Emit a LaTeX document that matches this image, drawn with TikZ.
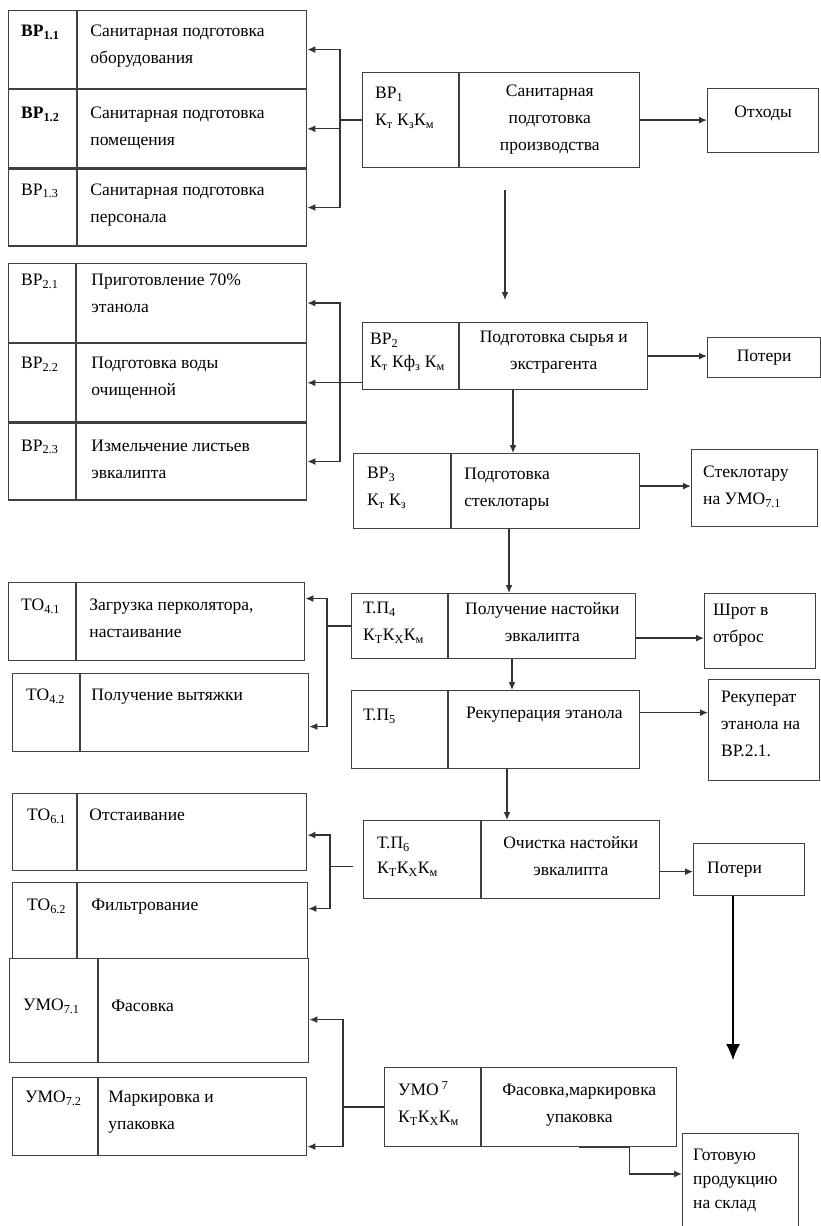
\documentclass[tikz,border=0pt]{standalone}
\usepackage{fontspec}
\setmainfont{Liberation Serif}
\usepackage{tikz}
\usetikzlibrary{arrows.meta,positioning}
\newcommand{\sbs}[1]{\textsubscript{#1}}
\newcommand{\boxfont}{\fontsize{17.5}{27}\selectfont}

\begin{document}
\begin{tikzpicture}[x=1pt, y=-1pt,
  cell/.style={draw=black!75, line width=1.2pt, anchor=north west,
    inner sep=0pt, font=\boxfont},
  txt/.style={anchor=north west, inner sep=0pt, align=left,
    xshift=13pt, yshift=-15pt, font=\boxfont},
  ctxt/.style={anchor=north, inner sep=0pt, align=center,
    yshift=-15pt, font=\boxfont},
  arr/.style={-{Latex[length=8pt,width=7pt]}, line width=1.3pt, black!80},
  link/.style={line width=1.3pt, black!80},
]
\useasboundingbox (0,0) rectangle (821,1226);

% Auxiliary work 1
\node[cell, minimum width=68pt, minimum height=78pt,
  label={[txt]north west:\textbf{ВР\sbs{1.1}}}] (bp11c) at (8,10) {};
\node[cell, minimum width=229pt, minimum height=78pt,
  label={[txt]north west:{Санитарная подготовка\\оборудования}}] (bp11) at (bp11c.north east) {};
\node[cell, minimum width=68pt, minimum height=78pt,
  label={[txt, yshift=-3pt]north west:\textbf{ВР\sbs{1.2}}}] (bp12c) at (bp11c.south west) {};
\node[cell, minimum width=229pt, minimum height=78pt,
  label={[txt, yshift=-3pt]north west:{Санитарная подготовка\\помещения}}] (bp12) at (bp12c.north east) {};
\node[cell, minimum width=68pt, minimum height=77pt,
  label={[txt]north west:ВР\sbs{1.3}}] (bp13c) at (bp12c.south west) {};
\node[cell, minimum width=229pt, minimum height=77pt,
  label={[txt]north west:{Санитарная подготовка\\персонала}}] (bp13) at (bp13c.north east) {};

\node[cell, minimum width=96pt, minimum height=95pt,
  label={[txt]north west:{ВР\sbs{1}\\К\sbs{т} К\sbs{з}К\sbs{м}}}] (bp1c) at (362,72) {};
\node[cell, minimum width=180pt, minimum height=95pt,
  label={[ctxt, yshift=2pt]north:{Санитарная\\подготовка\\производства}}] (bp1) at (bp1c.north east) {};
\node[cell, minimum width=111pt, minimum height=64pt,
  label={[ctxt, yshift=-3pt]north:Отходы}] (otx) at (707,88) {};

% Auxiliary work 2
\node[cell, minimum width=67pt, minimum height=79pt,
  label={[txt, yshift=4pt]north west:ВР\sbs{2.1}}] (bp21c) at (8,263) {};
\node[cell, minimum width=230pt, minimum height=79pt,
  label={[txt, xshift=2pt, yshift=4pt]north west:{Приготовление 70\%\\этанола}}] (bp21) at (bp21c.north east) {};
\node[cell, minimum width=67pt, minimum height=78pt,
  label={[txt, yshift=1pt]north west:ВР\sbs{2.2}}] (bp22c) at (bp21c.south west) {};
\node[cell, minimum width=230pt, minimum height=78pt,
  label={[txt, xshift=2pt, yshift=1pt]north west:{Подготовка воды\\очищенной}}] (bp22) at (bp22c.north east) {};
\node[cell, minimum width=67pt, minimum height=77pt,
  label={[txt, yshift=-2pt]north west:ВР\sbs{2.3}}] (bp23c) at (bp22c.south west) {};
\node[cell, minimum width=230pt, minimum height=77pt,
  label={[txt, xshift=2pt, yshift=-2pt]north west:{Измельчение листьев\\эвкалипта}}] (bp23) at (bp23c.north east) {};

\node[cell, minimum width=96pt, minimum height=67pt,
  label={[txt, xshift=-5pt, yshift=4pt, font=\fontsize{17.5}{23}\selectfont]north west:{ВР\sbs{2}\\К\sbs{т} Кф\sbs{з} К\sbs{м}}}] (bp2c) at (362,322) {};
\node[cell, minimum width=188pt, minimum height=67pt,
  label={[ctxt, yshift=6pt]north:{Подготовка сырья и\\экстрагента}}] (bp2) at (bp2c.north east) {};
\node[cell, minimum width=113pt, minimum height=40pt] (pot1) at (707,337) {Потери};

% Auxiliary work 3
\node[cell, minimum width=97pt, minimum height=75pt,
  label={[txt, xshift=1pt, yshift=1pt]north west:{ВР\sbs{3}\\К\sbs{т} К\sbs{з}}}] (bp3c) at (353,453) {};
\node[cell, minimum width=188pt, minimum height=75pt,
  label={[txt]north west:{Подготовка\\стеклотары}}] (bp3) at (bp3c.north east) {};
\node[cell, minimum width=126pt, minimum height=77pt,
  label={[txt, xshift=-1pt, yshift=-2pt]north west:{Стеклотару\\на УМО\sbs{7.1}}}] (steklo) at (691,449) {};

% Technological operations 4
\node[cell, minimum width=67pt, minimum height=78pt,
  label={[txt, yshift=-2pt]north west:ТО\sbs{4.1}}] (to41c) at (8,582) {};
\node[cell, minimum width=228pt, minimum height=78pt,
  label={[txt, yshift=-2pt]north west:{Загрузка перколятора,\\настаивание}}] (to41) at (to41c.north east) {};
\node[cell, minimum width=67pt, minimum height=78pt,
  label={[txt, xshift=1pt, yshift=-1pt]north west:ТО\sbs{4.2}}] (to42c) at (12,673) {};
\node[cell, minimum width=228pt, minimum height=78pt,
  label={[txt, xshift=-2pt, yshift=-1pt]north west:Получение вытяжки}] (to42) at (to42c.north east) {};

\node[cell, minimum width=96pt, minimum height=65pt,
  label={[txt, xshift=-1pt, yshift=6pt]north west:{Т.П\sbs{4}\\К\sbs{Т}К\sbs{Х}К\sbs{м}}}] (tp4c) at (351,593) {};
\node[cell, minimum width=187pt, minimum height=65pt,
  label={[ctxt, yshift=6pt]north:{Получение настойки\\эвкалипта}}] (tp4) at (tp4c.north east) {};
\node[cell, minimum width=111pt, minimum height=75pt,
  label={[txt, xshift=-4pt, yshift=4pt]north west:{Шрот в\\отброс}}] (shrot) at (704,593) {};

% Technological process 5
\node[cell, minimum width=96pt, minimum height=78pt,
  label={[txt, xshift=-1pt, yshift=-4pt]north west:Т.П\sbs{5}}] (tp5c) at (351,690) {};
\node[cell, minimum width=191pt, minimum height=78pt,
  label={[ctxt, yshift=-2pt]north:Рекуперация этанола}] (tp5) at (tp5c.north east) {};
\node[cell, minimum width=111pt, minimum height=101pt,
  label={[txt, yshift=3pt]north west:{Рекуперат\\этанола на\\ВР.2.1.}}] (rekup) at (708,679) {};

% Technological operations 6
\node[cell, minimum width=64pt, minimum height=77pt,
  label={[txt, xshift=2pt, yshift=-1pt]north west:ТО\sbs{6.1}}] (to61c) at (12,793) {};
\node[cell, minimum width=229pt, minimum height=77pt,
  label={[txt, xshift=-1pt, yshift=-1pt]north west:Отстаивание}] (to61) at (to61c.north east) {};
\node[cell, minimum width=64pt, minimum height=76pt,
  label={[txt, xshift=2pt, yshift=-2pt]north west:ТО\sbs{6.2}}] (to62c) at (12,882) {};
\node[cell, minimum width=230pt, minimum height=76pt,
  label={[txt, xshift=1pt, yshift=-2pt]north west:Фильтрование}] (to62) at (to62c.north east) {};

\node[cell, minimum width=117pt, minimum height=78pt,
  label={[txt, xshift=1pt, yshift=-2pt, font=\fontsize{17.5}{25}\selectfont]north west:{Т.П\sbs{6}\\К\sbs{Т}К\sbs{Х}К\sbs{м}}}] (tp6c) at (363,820) {};
\node[cell, minimum width=178pt, minimum height=78pt,
  label={[ctxt, yshift=-1pt]north:{Очистка настойки\\эвкалипта}}] (tp6) at (tp6c.north east) {};
\node[cell, minimum width=111pt, minimum height=52pt,
  label={[anchor=west, inner sep=0pt, xshift=14pt, font=\boxfont]west:Потери}] (pot2) at (693,843) {};

% Packing operations 7
\node[cell, minimum width=88pt, minimum height=104pt,
  label={[txt, xshift=1pt, yshift=-26pt]north west:УМО\sbs{7.1}}] (umo71c) at (9,958) {};
\node[cell, minimum width=210pt, minimum height=104pt,
  label={[txt, yshift=-27pt]north west:Фасовка}] (umo71) at (umo71c.north east) {};
\node[cell, minimum width=85pt, minimum height=78pt,
  label={[txt, yshift=1pt]north west:УМО\sbs{7.2}}] (umo72c) at (12,1077) {};
\node[cell, minimum width=208pt, minimum height=78pt,
  label={[txt, xshift=-3pt, yshift=1pt]north west:{Маркировка и\\упаковка}}] (umo72) at (umo72c.north east) {};

\node[cell, minimum width=96pt, minimum height=79pt,
  label={[txt, xshift=1pt, yshift=1pt]north west:{УМО\textsuperscript{ 7}\\К\sbs{Т}К\sbs{Х}К\sbs{м}}}] (umo7c) at (384,1067) {};
\node[cell, minimum width=195pt, minimum height=79pt,
  label={[ctxt, yshift=-2pt]north:{Фасовка,маркировка\\упаковка}}] (umo7) at (umo7c.north east) {};
\node[cell, minimum width=116pt, minimum height=110pt,
  label={[txt, xshift=-2pt, yshift=-1pt, font=\fontsize{17.5}{24}\selectfont]north west:{Готовую\\продукцию\\на склад}}] (gotov) at (682,1133) {};

% Brackets to the sub-operations
\draw[link] (bp1c.west) -- ++(-22,0) coordinate (br1);
\draw[arr] (br1) |- (bp11.east);
\draw[arr] (br1) |- (bp12.east);
\draw[arr] (br1) |- (bp13.east);

\draw[link] (bp2c.west |- bp22.east) -- ++(-22,0) coordinate (br2);
\draw[arr] (br2) |- (bp21.east);
\draw[arr] (br2) -- (bp22.east);
\draw[arr] (br2) |- (bp23.east);

\draw[link] (tp4c.west) -- ++(-24,0) coordinate (br4);
\draw[arr] (br4) |- ([yshift=23pt]to41.east);
\draw[arr] (br4) |- ([yshift=-14pt]to42.east);

\draw[link] ([xshift=-10pt, yshift=-7pt]tp6c.west) -- ++(-23,0) coordinate (br6);
\draw[arr] (br6) |- ([yshift=-3pt]to61.east);
\draw[arr] (br6) |- ([yshift=12pt]to62.east);

\draw[link] (umo7c.west) -- ++(-41,0) coordinate (br7);
\draw[arr] (br7) |- ([yshift=-9pt]umo71.east);
\draw[arr] (br7) |- ([yshift=-30pt]umo72.east);

% Main line
\coordinate (d1s) at (505,190);
\coordinate (d1e) at (505,300);
\draw[arr] (d1s) -- (d1e);
\draw[arr] (513,0 |- bp2.south) -- (513,0 |- bp3.north);
\draw[arr] (509,0 |- bp3.south) -- (509,0 |- tp4.north);
\draw[arr] (512,0 |- tp4.south) -- (512,0 |- tp5.north);
\draw[arr] (507,0 |- tp5.south) -- (507,0 |- tp6.north);

% Outputs
\draw[arr] (bp1.east) -- (bp1.east -| otx.west);
\draw[arr] (bp2.east) -- (bp2.east -| pot1.west);
\draw[arr] ([yshift=5pt]bp3.east) -- ([yshift=5pt]bp3.east -| steklo.west);
\draw[arr] ([yshift=-12pt]tp4.east) -- ([yshift=-12pt]tp4.east -| shrot.west);
\draw[arr] ([yshift=17pt]tp5.east) -- ([yshift=17pt]tp5.east -| rekup.west);
\draw[arr] ([yshift=-12pt]tp6.east) -- ([yshift=-12pt]tp6.east -| pot2.west);
\coordinate (pend) at (733,1060);
\draw[-{Latex[length=16pt,width=14pt]}, line width=1.2pt] (733,0 |- pot2.south) -- (pend);
\draw[arr] (umo7.south) -- ++(50,0) |- ([yshift=-41pt]gotov.north west);
\end{tikzpicture}
\end{document}
